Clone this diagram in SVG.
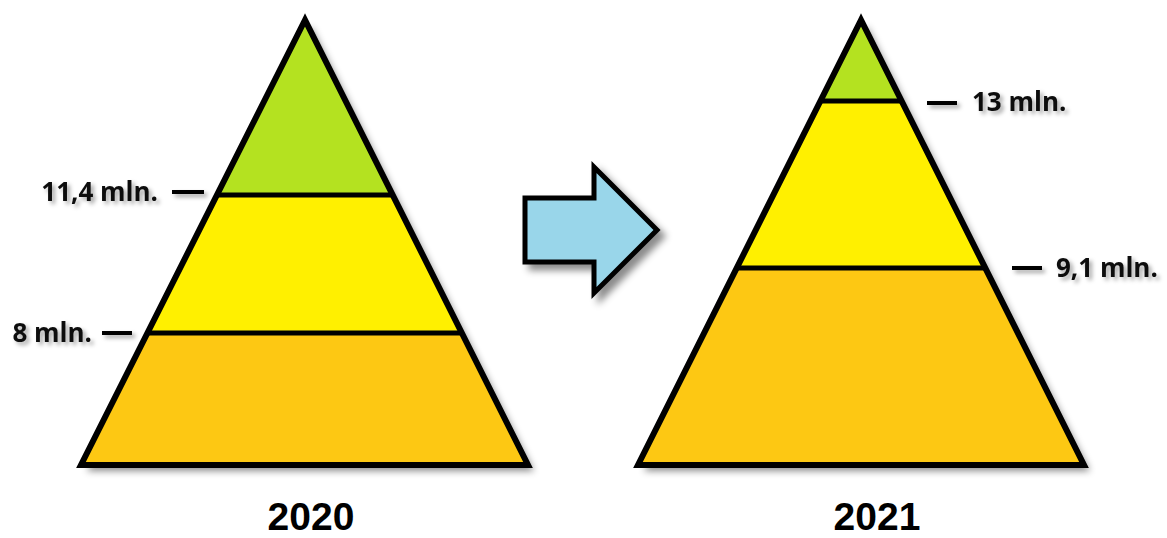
<svg xmlns="http://www.w3.org/2000/svg" width="1167" height="538" viewBox="0 0 1167 538">
<defs>
<filter id="sh" x="-10%" y="-10%" width="130%" height="130%">
<feDropShadow dx="6" dy="6" stdDeviation="3.5" flood-color="#000" flood-opacity="0.45"/>
</filter>
<filter id="tsh" x="-10%" y="-20%" width="130%" height="160%">
<feDropShadow dx="3" dy="3" stdDeviation="2" flood-color="#000" flood-opacity="0.35"/>
</filter>
<clipPath id="cl"><polygon points="305,20 81,465 528,465"/></clipPath>
<clipPath id="cr"><polygon points="861,20 638,465 1084,465"/></clipPath>
<style>
.g{fill:#B4E220}.y{fill:#FFF000}.o{fill:#FDC813}
.out{fill:none;stroke:#000;stroke-width:6;stroke-linejoin:miter}
.div{stroke:#000;stroke-width:5}
.dash{stroke:#000;stroke-width:4}
.lbl{font-family:"Open Sans",sans-serif;font-weight:bold;font-size:26px;fill:#111}
.yr{font-family:"Liberation Sans",Arial,sans-serif;font-weight:bold;font-size:39px;fill:#000;text-anchor:middle}
</style>
</defs>
<rect width="1167" height="538" fill="#fff"/>
<g id="pyramid-2020">
<polygon points="305,20 81,465 528,465" fill="#FDC813" filter="url(#sh)"/>
<g clip-path="url(#cl)">
<rect class="g" x="60" y="0" width="500" height="195"/>
<rect class="y" x="60" y="195" width="500" height="138"/>
<rect class="o" x="60" y="333" width="500" height="140"/>
</g>
<line class="div" x1="217" y1="195" x2="393" y2="195"/>
<line class="div" x1="147" y1="333" x2="462" y2="333"/>
<polygon class="out" points="305,20 81,465 528,465"/>
<g filter="url(#tsh)">
<line class="dash" x1="172" y1="192" x2="204" y2="192"/>
<text class="lbl" x="158" y="201" text-anchor="end">11,4 mln.</text>
<line class="dash" x1="102" y1="333" x2="132" y2="333"/>
<text class="lbl" x="92" y="342" text-anchor="end">8 mln.</text>
</g>
<text class="yr" x="311" y="530">2020</text>
</g>
<g id="pyramid-2021">
<polygon points="861,20 638,465 1084,465" fill="#FDC813" filter="url(#sh)"/>
<g clip-path="url(#cr)">
<rect class="g" x="620" y="0" width="500" height="101"/>
<rect class="y" x="620" y="101" width="500" height="167"/>
<rect class="o" x="620" y="268" width="500" height="205"/>
</g>
<line class="div" x1="820" y1="101" x2="902" y2="101"/>
<line class="div" x1="736" y1="268" x2="986" y2="268"/>
<polygon class="out" points="861,20 638,465 1084,465"/>
<g filter="url(#tsh)">
<line class="dash" x1="927" y1="103" x2="957" y2="103"/>
<text class="lbl" x="972" y="111">13 mln.</text>
<line class="dash" x1="1012" y1="268" x2="1042" y2="268"/>
<text class="lbl" x="1056" y="277">9,1 mln.</text>
</g>
<text class="yr" x="877" y="530">2021</text>
</g>
<g id="connectors">
<polygon points="525,198 594,198 594,167 657,230 594,293 594,262 525,262" fill="#99D6EA" stroke="#000" stroke-width="5" stroke-linejoin="miter" filter="url(#sh)"/>
</g>
</svg>
